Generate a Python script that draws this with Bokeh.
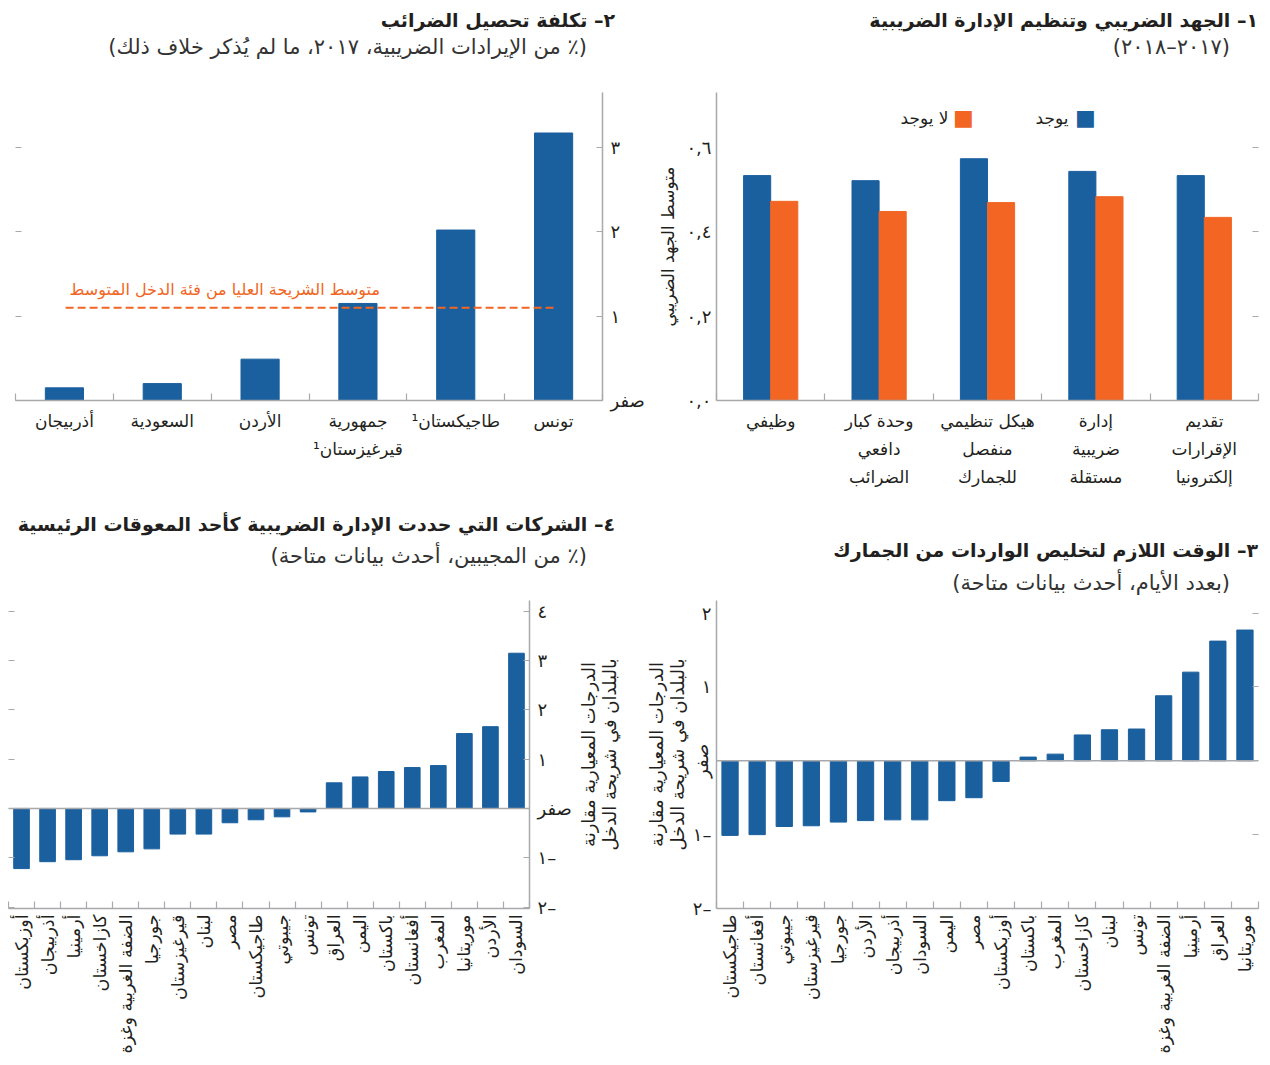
import math
import numpy as np
from bokeh.plotting import figure
from bokeh.models import Range1d, LinearAxis, FixedTicker, Div, Label, Span
from bokeh.layouts import row, column
from bokeh.embed import file_html
from bokeh.resources import INLINE

FONT = "DejaVu Sans"
BLUE = "#1a5f9e"
ORANGE = "#f26522"
GRAY = "#a7a9ac"
TXT = "#231f20"

# ---------------- data ----------------
# Panel 1 (categories listed right-to-left, as read)
p1_title = "١– الجهد الضريبي وتنظيم الإدارة الضريبية"
p1_subtitle = "(٢٠١٧–٢٠١٨)"
p1_categories = ["تقديم\nالإقرارات\nإلكترونيا", "إدارة\nضريبية\nمستقلة",
                 "هيكل تنظيمي\nمنفصل\nللجمارك", "وحدة كبار\nدافعي\nالضرائب", "وظيفي"]
p1_exists = [0.533, 0.543, 0.573, 0.521, 0.533]
p1_absent = [0.434, 0.483, 0.469, 0.448, 0.472]
p1_series = ["يوجد", "لا يوجد"]
p1_yticks = [0.0, 0.2, 0.4, 0.6]
p1_ylabels = ["٠,٠", "٠,٢", "٠,٤", "٠,٦"]
p1_ytitle = "متوسط الجهد الضريبي"

# Panel 2
p2_title = "٢– تكلفة تحصيل الضرائب"
p2_subtitle = "(٪ من الإيرادات الضريبية، ٢٠١٧، ما لم يُذكر خلاف ذلك)"
p2_categories = ["تونس", "طاجيكستان¹\u200f", "جمهورية\nقيرغيزستان¹\u200f", "الأردن", "السعودية", "أذربيجان"]
p2_values = [3.17, 2.02, 1.15, 0.49, 0.20, 0.15]
p2_average = 1.10
p2_average_label = "متوسط الشريحة العليا من فئة الدخل المتوسط"
p2_yticks = [0, 1, 2, 3]
p2_ylabels = ["صفر", "١", "٢", "٣"]

# Panel 3
p3_title = "٣– الوقت اللازم لتخليص الواردات من الجمارك"
p3_subtitle = "(بعدد الأيام، أحدث بيانات متاحة)"
p3_categories = ["موريتانيا", "العراق", "أرمينيا", "الضفة الغربية وغزة", "تونس", "لبنان",
                 "كازاخستان", "المغرب", "باكستان", "أوزبكستان", "مصر", "اليمن", "السودان",
                 "أذربيجان", "الأردن", "جورجيا", "قيرغيزستان", "جيبوتي", "أفغانستان", "طاجيكستان"]
p3_values = [1.77, 1.62, 1.20, 0.88, 0.43, 0.42, 0.35, 0.09, 0.05, -0.28, -0.50, -0.54,
             -0.80, -0.80, -0.81, -0.83, -0.88, -0.89, -1.00, -1.01]
p3_yticks = [-2, -1, 0, 1, 2]
p3_ylabels = ["٢–", "١–", "صفر", "١", "٢"]
p3_ytitle = "الدرجات المعيارية مقارنة\nبالبلدان في شريحة الدخل"

# Panel 4
p4_title = "٤– الشركات التي حددت الإدارة الضريبية كأحد المعوقات الرئيسية"
p4_subtitle = "(٪ من المجيبين، أحدث بيانات متاحة)"
p4_categories = ["السودان", "الأردن", "موريتانيا", "المغرب", "أفغانستان", "باكستان", "اليمن",
                 "العراق", "تونس", "جيبوتي", "طاجيكستان", "مصر", "لبنان", "قيرغيزستان",
                 "جورجيا", "الضفة الغربية وغزة", "كازاخستان", "أرمينيا", "أذربيجان", "أوزبكستان"]
p4_values = [3.15, 1.66, 1.52, 0.87, 0.83, 0.75, 0.64, 0.52, -0.07, -0.17, -0.23, -0.29,
             -0.52, -0.52, -0.82, -0.88, -0.96, -1.04, -1.08, -1.22]
p4_yticks = [-2, -1, 0, 1, 2, 3, 4]
p4_ylabels = ["٢–", "١–", "صفر", "١", "٢", "٣", "٤"]
p4_ytitle = "الدرجات المعيارية مقارنة\nبالبلدان في شريحة الدخل"


# ---------------- helpers ----------------
def make_fig(w, fh, bl, br, bb, xr, yr):
    p = figure(width=w, frame_height=fh, min_border_left=bl, min_border_right=br,
               min_border_top=0, min_border_bottom=bb, x_range=xr, y_range=yr,
               x_axis_location=None, y_axis_location=None,
               output_backend="svg", toolbar_location=None,
               outline_line_color=None, background_fill_color="white",
               border_fill_color="white")
    p.grid.visible = False
    return p


def style(ax, size="18px"):
    ax.axis_line_color = GRAY
    ax.axis_line_width = 1.5
    ax.major_tick_line_color = GRAY
    ax.minor_tick_line_color = GRAY
    ax.major_tick_line_width = 1.2
    ax.minor_tick_line_width = 1.2
    ax.major_label_text_font = FONT
    ax.major_label_text_font_size = size
    ax.major_label_text_color = TXT
    ax.axis_label_text_font = FONT
    ax.axis_label_text_font_size = "17px"
    ax.axis_label_text_font_style = "normal"
    ax.axis_label_text_color = TXT
    return ax


def cat_axis(pos, labels, n, size="17px", standoff=10, orient="horizontal"):
    ax = LinearAxis(ticker=FixedTicker(ticks=[float(x) for x in pos],
                                       minor_ticks=[float(i) for i in range(n + 1)]),
                    major_label_overrides={float(x): l for x, l in zip(pos, labels)},
                    major_tick_in=0, major_tick_out=0, minor_tick_in=7, minor_tick_out=0,
                    major_label_standoff=standoff)
    style(ax, size)
    ax.major_label_orientation = orient
    return ax


def value_axis(ticks, labels, tick_in=0, line=True, standoff=5):
    ax = LinearAxis(ticker=FixedTicker(ticks=ticks),
                    major_label_overrides={t: l for t, l in zip(ticks, labels)},
                    major_tick_in=tick_in, major_tick_out=0, major_label_standoff=standoff)
    style(ax)
    if not line:
        ax.axis_line_color = None
    return ax


def tick_axis(ticks):
    ax = LinearAxis(ticker=FixedTicker(ticks=ticks),
                    major_label_overrides={t: "" for t in ticks},
                    major_tick_in=6, major_tick_out=0, major_label_standoff=0,
                    axis_line_color=None, major_tick_line_color=GRAY,
                    major_tick_line_width=1.2)
    return ax


def title_div(title, subtitle, width, height, pad_top, pad_right, gap):
    html = (
        f'<div dir="rtl" style="width:{width - pad_right}px;padding-top:{pad_top}px;'
        f'text-align:right;font-family:\'{FONT}\';color:{TXT};">'
        f'<div style="font-weight:bold;font-size:19px;line-height:24px;white-space:nowrap;">{title}</div>'
        f'<div style="font-size:21px;line-height:30px;margin-top:{gap}px;margin-right:28px;'
        f'white-space:nowrap;color:#333333;">{subtitle}</div></div>'
    )
    return Div(text=html, width=width, height=height, margin=0)


# ---------------- panel 1 ----------------
n1 = len(p1_categories)
pos1 = np.arange(n1) + 0.5
p1 = make_fig(607, 308, 61, 4, 100, Range1d(n1, 0), Range1d(0, 0.73))
p1.vbar(x=pos1 + 0.125, top=p1_exists, width=0.25, color=BLUE)
p1.vbar(x=pos1 - 0.125, top=p1_absent, width=0.25, color=ORANGE)
ax = cat_axis(pos1, p1_categories, n1)
ax.major_label_text_line_height = 1.4
p1.add_layout(ax, "below")
ya = value_axis(p1_yticks, p1_ylabels)
ya.axis_label = p1_ytitle
p1.add_layout(ya, "left")
p1.add_layout(tick_axis(p1_yticks), "right")
for sx, tx, col, txt in [(369, 352, BLUE, p1_series[0]), (247, 232, ORANGE, p1_series[1])]:
    p1.add_layout(Label(x=sx, y=283, x_units="screen", y_units="screen", text="■",
                        text_color=col, text_font_size="22px", text_align="center",
                        text_baseline="middle", text_font=FONT))
    p1.add_layout(Label(x=tx, y=283, x_units="screen", y_units="screen", text=txt,
                        text_color=TXT, text_font_size="17px", text_align="right",
                        text_baseline="middle", text_font=FONT))

# ---------------- panel 2 ----------------
n2 = len(p2_categories)
pos2 = np.arange(n2) + 0.5
p2 = make_fig(647, 308, 7, 53, 100, Range1d(n2, 0), Range1d(0, 3.65))
p2.vbar(x=pos2, top=p2_values, width=0.39, color=BLUE)
p2.line(x=[pos2[0], pos2[-1]], y=[p2_average, p2_average], line_color=ORANGE,
        line_width=2, line_dash="8 4")
p2.add_layout(Label(x=pos2[2] - 0.195, y=p2_average, x_offset=3, y_offset=9,
                    text=p2_average_label, text_color=ORANGE, text_font=FONT,
                    text_font_size="16px", text_align="right", text_baseline="bottom"))
ax = cat_axis(pos2, p2_categories, n2)
ax.major_label_text_line_height = 1.4
p2.add_layout(ax, "below")
p2.add_layout(value_axis(p2_yticks, p2_ylabels, tick_in=6, standoff=8), "right")
p2.add_layout(tick_axis(p2_yticks), "left")

# ---------------- panel 3 ----------------
n3 = len(p3_categories)
pos3 = np.arange(n3) + 0.5
p3 = make_fig(622, 308, 76, 4, 145, Range1d(n3, 0), Range1d(-2.0, 2.17))
p3.add_layout(Span(location=0, dimension="width", line_color=GRAY, line_width=1.5))
p3.vbar(x=pos3, bottom=0, top=p3_values, width=0.6, color=BLUE)
p3.add_layout(cat_axis(pos3, p3_categories, n3, size="17.5px", standoff=6,
                       orient=math.pi / 2), "below")
# inner axis: line + numeric labels
ya = value_axis(p3_yticks, [("" if t == 0 else l) for t, l in zip(p3_yticks, p3_ylabels)])
p3.add_layout(ya, "left")
# outer axis: rotated zero label slid back into the label column, plus the axis title
yz = LinearAxis(ticker=FixedTicker(ticks=[0]), major_label_overrides={0: p3_ylabels[2]},
                major_tick_in=0, major_tick_out=0, major_label_standoff=-23,
                axis_line_color=None, major_label_orientation="vertical")
style(yz)
yz.axis_line_color = None
yz.axis_label = p3_ytitle
yz.axis_label_standoff = 1
yz.axis_label_text_line_height = 1.0
yz.axis_label_text_font_size = "18px"
p3.add_layout(yz, "left")
p3.add_layout(tick_axis(p3_yticks), "right")

# ---------------- panel 4 ----------------
n4 = len(p4_categories)
pos4 = np.arange(n4) + 0.5
p4 = make_fig(566, 308, 0, 44, 145, Range1d(n4, 0), Range1d(-2.03, 4.22))
p4.add_layout(Span(location=0, dimension="width", line_color=GRAY, line_width=1.5))
p4.vbar(x=pos4, bottom=0, top=p4_values, width=0.6, color=BLUE)
p4.add_layout(cat_axis(pos4, p4_categories, n4, size="17.5px", standoff=6,
                       orient=math.pi / 2), "below")
p4.add_layout(value_axis(p4_yticks, p4_ylabels, tick_in=6, standoff=8), "right")
p4.add_layout(tick_axis(p4_yticks), "left")

# axis title of panel 4, read like the others (rotated counter-clockwise)
p4t = make_fig(66, 308, 40, 0, 145, Range1d(0, 1), Range1d(0, 1))
ta = LinearAxis(ticker=FixedTicker(ticks=[]), major_tick_in=0, major_tick_out=0,
                major_label_standoff=0, axis_line_color=None)
style(ta)
ta.axis_line_color = None
ta.axis_label = p4_ytitle
ta.axis_label_standoff = 2
ta.axis_label_text_line_height = 1.0
ta.axis_label_text_font_size = "18px"
p4t.add_layout(ta, "left")

# ---------------- titles & layout ----------------
d1 = title_div(p1_title, p1_subtitle, 607, 84, 0, 4, 0)
d2 = title_div(p2_title, p2_subtitle, 647, 84, 0, 40, 0)
d3 = title_div(p3_title, p3_subtitle, 622, 100, 38, 4, 6)
d4 = title_div(p4_title, p4_subtitle, 632, 100, 12, 25, 5)

layout = column(row(column(d2, p2), column(d1, p1)),
                row(column(d4, row(p4, p4t)), column(d3, p3)),
                margin=(8, 8, 8, 8))

open("out.html", "w").write(file_html(layout, INLINE))
